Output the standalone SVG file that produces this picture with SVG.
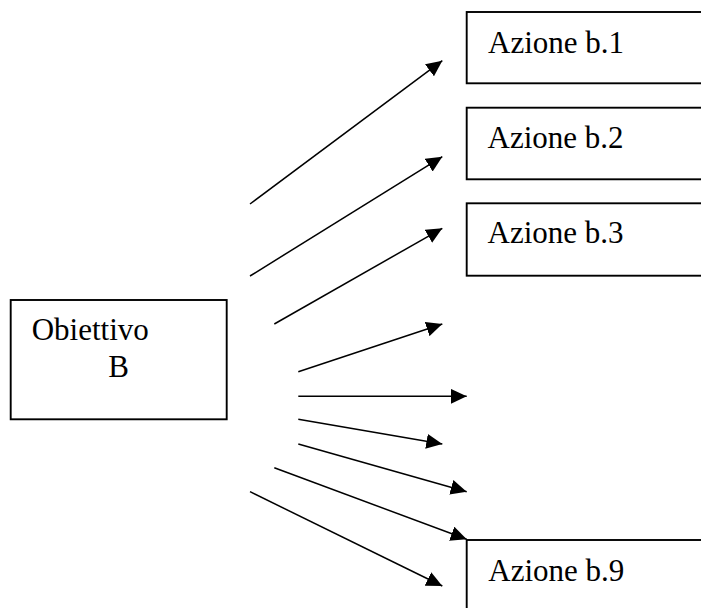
<svg xmlns="http://www.w3.org/2000/svg" width="701" height="608" viewBox="0 0 701 608">
<style>
.box{fill:#fff;stroke:#000;stroke-width:1.9}
.lbl{font-family:"Liberation Serif","Times New Roman",serif;font-size:31px;fill:#000}
.arr{stroke:#000;stroke-width:1.5;fill:none;marker-end:url(#ah)}
</style>
<defs>
<marker id="ah" markerUnits="userSpaceOnUse" markerWidth="17" markerHeight="15" refX="16" refY="7.5" orient="auto" viewBox="0 0 17 15">
<path d="M0,0 L16,7.5 L0,15 z" fill="#000"/>
</marker>
</defs>
<rect width="701" height="608" fill="#fff"/>
<g id="obiettivo">
<rect class="box" x="10.7" y="300" width="216" height="119.3"/>
<text class="lbl" x="31.7" y="340">Obiettivo</text>
<text class="lbl" x="108.3" y="376.7">B</text>
</g>
<g id="azione-b1">
<rect class="box" x="466.7" y="12" width="260" height="71.3"/>
<text class="lbl" x="488" y="52.7">Azione b.1</text>
</g>
<g id="azione-b2">
<rect class="box" x="466.7" y="107.7" width="260" height="71.6"/>
<text class="lbl" x="487.5" y="148.3">Azione b.2</text>
</g>
<g id="azione-b3">
<rect class="box" x="466.7" y="203.3" width="260" height="72.4"/>
<text class="lbl" x="487.5" y="243.3">Azione b.3</text>
</g>
<g id="azione-b9">
<rect class="box" x="466.7" y="540" width="260" height="100"/>
<text class="lbl" x="488.3" y="581">Azione b.9</text>
</g>
<g id="connectors">
<line class="arr" x1="250" y1="204" x2="442.3" y2="60.7"/>
<line class="arr" x1="250" y1="276" x2="442.3" y2="156.7"/>
<line class="arr" x1="274.3" y1="324" x2="442.3" y2="228.3"/>
<line class="arr" x1="298.3" y1="371.7" x2="442.3" y2="324"/>
<line class="arr" x1="298.3" y1="396.3" x2="466.7" y2="396.3"/>
<line class="arr" x1="298.3" y1="419.3" x2="442.3" y2="444"/>
<line class="arr" x1="298.3" y1="444" x2="466.7" y2="491.7"/>
<line class="arr" x1="274.3" y1="467.7" x2="466.7" y2="539.3"/>
<line class="arr" x1="250" y1="491.7" x2="442.3" y2="586"/>
</g>
</svg>
